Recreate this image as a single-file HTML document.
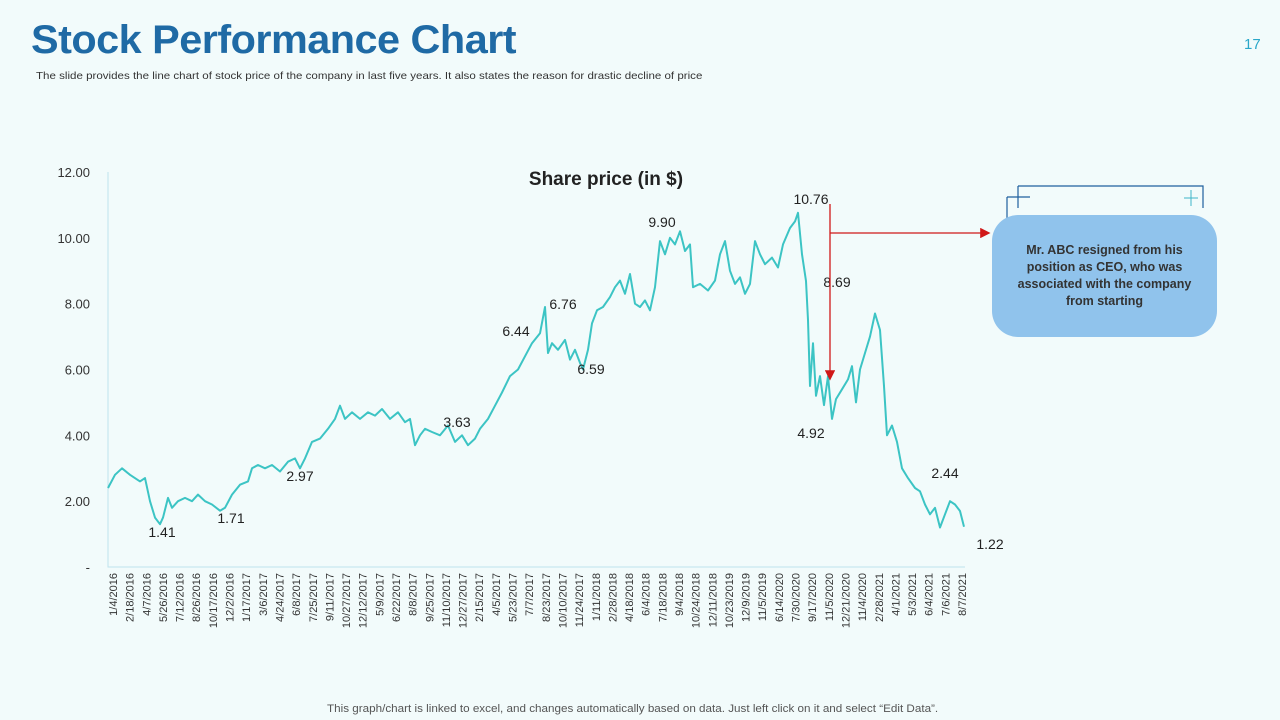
<!DOCTYPE html>
<html><head><meta charset="utf-8">
<style>
html,body{margin:0;padding:0;background:#f2fbfb;}
body{width:1280px;height:720px;overflow:hidden;position:relative;font-family:"Liberation Sans",sans-serif;}
#title{position:absolute;left:31px;top:18px;font-size:40px;font-weight:bold;color:#1f6aa5;letter-spacing:-0.5px;transform:scaleX(1.035);transform-origin:left;white-space:nowrap;}
#sub{position:absolute;left:36px;top:70px;font-size:10.5px;color:#333;transform:scaleX(1.1);transform-origin:left;white-space:nowrap;}
#pg{position:absolute;left:1244px;top:36px;font-size:15px;color:#2aa7c9;}
#foot{position:absolute;left:327px;top:703px;font-size:11px;color:#555;transform:scaleX(1.06);transform-origin:left;white-space:nowrap;}
#callout{position:absolute;left:992px;top:215px;width:225px;height:122px;border-radius:26px;background:#90c3ec;display:flex;align-items:center;justify-content:center;text-align:center;font-weight:bold;font-size:12.5px;line-height:17px;color:#333;}
svg{position:absolute;left:0;top:0;}
</style></head>
<body>
<div id="title">Stock Performance Chart</div>
<div id="sub">The slide provides the line chart of stock price of the company in last five years. It also states the reason for drastic decline of price</div>
<div id="pg">17</div>
<div id="foot">This graph/chart is linked to excel, and changes automatically based on data. Just left click on it and select “Edit Data”.</div>
<svg id="chart" width="1280" height="720"></svg>
<div id="callout">Mr. ABC resigned from his<br>position as CEO, who was<br>associated with the company<br>from starting</div>
<script>
const yTicks=[0,2,4,6,8,10,12];
const yTickLabels=["-","2.00","4.00","6.00","8.00","10.00","12.00"];
const dateLabels=["1/4/2016","2/18/2016","4/7/2016","5/26/2016","7/12/2016","8/26/2016","10/17/2016","12/2/2016","1/17/2017","3/6/2017","4/24/2017","6/8/2017","7/25/2017","9/11/2017","10/27/2017","12/12/2017","5/9/2017","6/22/2017","8/8/2017","9/25/2017","11/10/2017","12/27/2017","2/15/2017","4/5/2017","5/23/2017","7/7/2017","8/23/2017","10/10/2017","11/24/2017","1/11/2018","2/28/2018","4/18/2018","6/4/2018","7/18/2018","9/4/2018","10/24/2018","12/11/2018","10/23/2019","12/9/2019","11/5/2019","6/14/2020","7/30/2020","9/17/2020","11/5/2020","12/21/2020","11/4/2020","2/28/2021","4/1/2021","5/3/2021","6/4/2021","7/6/2021","8/7/2021"];
// timeline position (0-857 trading-day units) and price
const timeline=[0,7,14,22,32,37,42,47,52,55,60,64,70,77,84,90,97,104,112,117,124,132,140,144,150,157,164,172,180,187,192,197,204,212,220,227,232,237,244,252,260,267,274,282,290,297,302,307,312,317,324,332,340,347,354,360,367,372,380,387,394,402,410,417,424,432,437,440,444,450,457,462,467,472,475,480,484,489,495,502,507,512,517,522,527,532,537,542,547,552,557,562,567,572,577,582,585,592,600,607,612,617,622,627,632,637,642,647,652,657,664,670,675,682,687,690,694,698,700,702,705,708,712,716,720,724,728,734,740,744,748,752,757,762,767,772,776,779,784,789,794,800,807,812,817,822,827,832,837,842,847,852,856];
const prices=[2.4,2.8,3.0,2.8,2.6,2.7,2.0,1.5,1.3,1.5,2.1,1.8,2.0,2.1,2.0,2.2,2.0,1.9,1.71,1.8,2.2,2.5,2.6,3.0,3.1,3.0,3.1,2.9,3.2,3.3,3.0,3.3,3.8,3.9,4.2,4.5,4.9,4.5,4.7,4.5,4.7,4.6,4.8,4.5,4.7,4.4,4.5,3.7,4.0,4.2,4.1,4.0,4.3,3.8,4.0,3.7,3.9,4.2,4.5,4.9,5.3,5.8,6.0,6.4,6.8,7.1,7.9,6.5,6.8,6.6,6.9,6.3,6.6,6.2,6.0,6.6,7.4,7.8,7.9,8.2,8.5,8.7,8.3,8.9,8.0,7.9,8.1,7.8,8.5,9.9,9.5,10.0,9.8,10.2,9.6,9.8,8.5,8.6,8.4,8.7,9.5,9.9,9.0,8.6,8.8,8.3,8.6,9.9,9.5,9.2,9.4,9.1,9.8,10.3,10.5,10.76,9.5,8.69,7.5,5.5,6.8,5.2,5.8,4.92,5.8,4.5,5.1,5.4,5.7,6.1,5.0,6.0,6.5,7.0,7.7,7.2,5.5,4.0,4.3,3.8,3.0,2.7,2.4,2.3,1.9,1.6,1.8,1.2,1.6,2.0,1.9,1.7,1.22];
const callLabels=["1.41","1.71","2.97","3.63","6.44","6.76","6.59","9.90","10.76","8.69","4.92","2.44","1.22"];
const callPos=[[162,532],[231,518],[300,476],[457,422],[516,331],[563,304],[591,369],[662,222],[811,199],[837,282],[811,433],[945,473],[990,544]];

const NS="http://www.w3.org/2000/svg";
const svg=document.getElementById('chart');
const X0=108,X1=965,Y0=567,Y1=172;
const xs=t=>X0+(X1-X0)*t/857;
const ys=v=>Y0-(Y0-Y1)*v/12;
function mk(tag,attrs){const e=document.createElementNS(NS,tag);for(const k in attrs)e.setAttribute(k,attrs[k]);svg.appendChild(e);return e;}

let ax=mk('path',{d:`M${X0} ${Y1}V${Y0}H${X1}`,stroke:'#bfe3ee',fill:'none','stroke-width':1});


yTicks.forEach((v,i)=>{
  const t=mk('text',{x:90,y:ys(v)+5,'text-anchor':'end','font-size':13,fill:'#333','font-family':'Liberation Sans'});
  t.textContent=yTickLabels[i];
  
  
});
dateLabels.forEach((d,i)=>{
  const x=X0+5+i*(X1-X0-8)/(dateLabels.length-1);
  const t=mk('text',{x:0,y:0,'text-anchor':'end','font-size':11,fill:'#333','font-family':'Liberation Sans',transform:`translate(${x+4},${573}) rotate(-90)`});
  t.textContent=d;
  
  
});
const ct=mk('text',{x:606,y:185,'text-anchor':'middle','font-size':19,'font-weight':'bold',fill:'#222','font-family':'Liberation Sans'});
ct.textContent='Share price (in $)';



let d='';
prices.forEach((v,i)=>{d+=(i?'L':'M')+xs(timeline[i]).toFixed(1)+' '+ys(v).toFixed(1);});
const ln=mk('path',{d:d,stroke:'#3cc4c4',fill:'none','stroke-width':2,'stroke-linejoin':'round'});



callLabels.forEach((s,i)=>{
  const t=mk('text',{x:callPos[i][0],y:callPos[i][1]+5,'text-anchor':'middle','font-size':14,fill:'#222','font-family':'Liberation Sans'});
  t.textContent=s;
  
  
});

const defs=mk('defs',{});
defs.innerHTML='<marker id="ar" markerWidth="8" markerHeight="8" refX="6" refY="4" orient="auto"><path d="M0 0L8 4L0 8z" fill="#d01818"/></marker>';
let a1=mk('path',{d:'M830 204V378',stroke:'#d01818','stroke-width':1.3,fill:'none','marker-end':'url(#ar)'});


let a2=mk('path',{d:'M830 233H988',stroke:'#d01818','stroke-width':1.3,fill:'none','marker-end':'url(#ar)'});


let fr=mk('path',{d:'M1018 186H1203V208M1007 197V315M1007 197H1030M1007 315H1030M1018 186V208',stroke:'#1f5f9e','stroke-width':1.2,fill:'none'});


let cr=mk('path',{d:'M1191 190V206M1184 198H1198M1017 296V312M1010 304H1026',stroke:'#3fb6c8','stroke-width':1,fill:'none'});


</script>
</body></html>
